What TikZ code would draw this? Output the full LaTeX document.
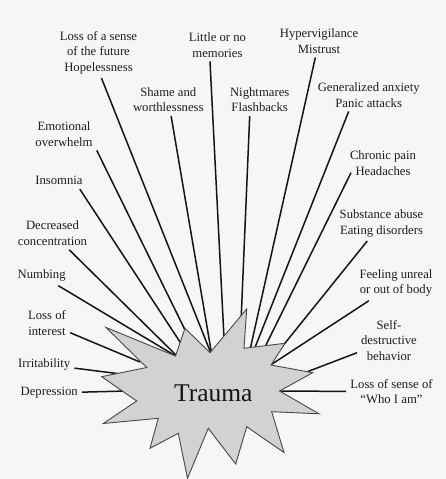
\documentclass[tikz,border=0pt]{standalone}
\usepackage{fontspec}
\setmainfont{Liberation Serif}
\usepackage{tikz}
\definecolor{paper}{HTML}{F6F6F6}
\definecolor{inkgray}{HTML}{1E1E1E}
\definecolor{starfill}{HTML}{D2D2D2}
\definecolor{staredge}{HTML}{484848}
\tikzset{
    every node/.style={font=\fontsize{12.7}{15.5}\selectfont},
    symptom/.style={text=inkgray,align=center,inner sep=4pt},
    link/.style={draw=black!92,line width=1.5pt},
    burst/.style={fill=starfill,draw=staredge,line width=0.9pt,line join=miter},
    core/.style={font=\fontsize{25.5}{28}\selectfont,text=black!92}
}
\begin{document}
\begin{tikzpicture}[x=1pt,y=-1pt]
\fill[paper] (0,0) rectangle (446,479);
\useasboundingbox (0,0) rectangle (446,479);

% labels round the top
\node[symptom] (future) at (98.5,52.7) {Loss of a sense\\of the future\\Hopelessness};
\node[symptom] (memories) at (217.5,45) {Little or no\\memories};
\node[symptom] (vigilance) at (319,41) {Hypervigilance\\Mistrust};
\node[symptom] (shame) at (168.3,99.5) {Shame and\\worthlessness};
\node[symptom] (nightmares) at (259.7,99.5) {Nightmares\\Flashbacks};
\node[symptom] (anxiety) at (368.7,95) {Generalized anxiety\\Panic attacks};
% right side
\node[symptom] (pain) at (383,163.3) {Chronic pain\\Headaches};
\node[symptom] (substance) at (381.5,223.3) {Substance abuse\\Eating disorders};
\node[symptom] (unreal) at (396,283) {Feeling unreal\\or out of body};
\node[symptom] (selfharm) at (389,340.5) {Self-\\destructive\\behavior};
\node[symptom] (identity) at (391.5,391.7) {Loss of sense of\\“Who I am”};
% left side
\node[symptom] (emotional) at (64,134) {Emotional\\overwhelm};
\node[symptom] (insomnia) at (59,180.7) {Insomnia};
\node[symptom] (focus) at (52.5,233.3) {Decreased\\concentration};
\node[symptom] (numbing) at (41.7,275.7) {Numbing};
\node[symptom] (interest) at (47,323) {Loss of\\interest};
\node[symptom] (irritable) at (44.2,364.3) {Irritability};
\node[symptom] (depression) at (49.2,393) {Depression};

\coordinate (hubA) at (179,358);
\coordinate (hubB) at (212,356);
\coordinate (tipMem) at (224,338);
\coordinate (tipNight) at (241,322);
\coordinate (tipVig) at (250,350);
\coordinate (tipAnx) at (254,350);
\coordinate (tipPain) at (264,349);
\coordinate (tipSub) at (273,358);
\coordinate (tipUnreal) at (266,368);
\coordinate (tipSelf) at (304,373);
\coordinate (tipWho) at (280,391);
\coordinate (tipDep) at (126,391);
\coordinate (tipIrr) at (121,374);
\coordinate (tipInt) at (140,362);
\coordinate (tipEmo) at (188,336);
\coordinate (tipIns) at (182,345);

\draw[link] ([xshift=3pt]future.south) -- (hubB);
\draw[link] ([xshift=-7.5pt]memories.south) -- (tipMem);
\draw[link] (vigilance) -- (tipVig);
\draw[link] (shame) -- (hubB);
\draw[link] ([xshift=-10pt]nightmares.south) -- (tipNight);
\draw[link] ([xshift=-20pt]anxiety.south) -- (tipAnx);
\draw[link] ([xshift=-32pt,yshift=7pt]pain.south) -- (tipPain);
\draw[link] (substance) -- (tipSub);
\draw[link] (unreal) -- (tipUnreal);
\draw[link] (selfharm) -- (tipSelf);
\draw[link] (identity) -- (tipWho);
\draw[link] (emotional.south east) -- (tipEmo);
\draw[link] ([xshift=-7pt]insomnia.south east) -- (tipIns);
\draw[link] (focus) -- (hubA);
\draw[link] (numbing) -- (hubA);
\draw[link] (interest) -- (tipInt);
\draw[link] (irritable) -- (tipIrr);
\draw[link] (depression) -- (tipDep);

% the burst
\draw[burst] (246.7,309) -- (244,348.3) -- (285,343.3) -- (271,365)
  -- (312.7,372.7) -- (279.5,391) -- (319,413.8) -- (271.7,411.7)
  -- (284,452.5) -- (246.7,426.7) -- (235.7,464) -- (208.3,428.3)
  -- (187.5,478.3) -- (178.3,433.3) -- (150,448.3) -- (158.3,418.3)
  -- (103.3,423.5) -- (136.7,401) -- (101.7,376.7) -- (146.7,367.5)
  -- (106,327.5) -- (175.5,356) -- (185,328.3) -- (210,352.7) -- cycle;
\node[core] (trauma) at (213.3,393.3) {Trauma};
\end{tikzpicture}
\end{document}
